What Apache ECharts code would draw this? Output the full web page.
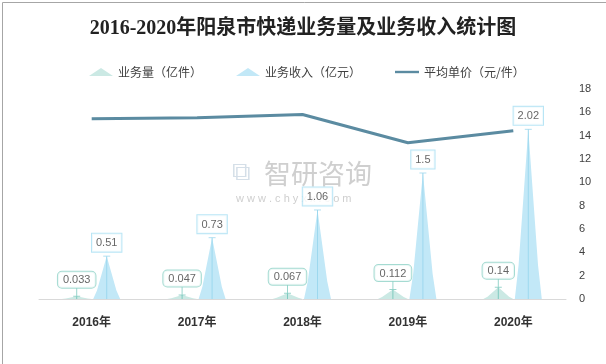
<!DOCTYPE html>
<html><head><meta charset="utf-8">
<script src="https://cdn.jsdelivr.net/npm/echarts@6/dist/echarts.min.js"></script>
<style>html,body{margin:0;padding:0;background:#fff}#c{width:606px;height:364px}</style>
</head><body><div id="c"></div>
<script>
const years = ['2016年', '2017年', '2018年', '2019年', '2020年'];
const volume = [0.033, 0.047, 0.067, 0.112, 0.14];      // 业务量（亿件）
const revenue = [0.51, 0.73, 1.06, 1.5, 2.02];          // 业务收入（亿元）
const unitPrice = [15.45, 15.53, 15.82, 13.39, 14.43];  // 平均单价（元/件）

const volColor = '#cbe9e4', revColor = '#c2e8f7', lineColor = '#5b8ba1';
const volLine = '#7fcabf', revLine = '#9dd8ee';
const spike = 'path://M0,100 L14,80 L50,0 L86,80 L100,100 Z';
const lblFont = {fontSize: 11, color: '#404040', fontFamily: 'Arial, "Liberation Sans", "Noto Sans CJK SC"'};

const chart = echarts.init(document.getElementById('c'));
chart.setOption({
  animation: false,
  title: {
    text: '2016-2020年阳泉市快递业务量及业务收入统计图',
    left: 'center', top: 14,
    textStyle: {fontSize: 20, fontWeight: 'bold', color: '#222', fontFamily: '"Liberation Serif", "Noto Sans CJK SC"'}
  },
  legend: {
    left: 84, top: 61, itemGap: 34, itemWidth: 24, itemHeight: 8,
    textStyle: {fontSize: 12, color: '#404040', fontFamily: '"Noto Sans CJK SC"'},
    data: [
      {name: '业务量（亿件）', icon: 'path://M0,8 L12,0 L24,8 Z', itemStyle: {color: volColor}},
      {name: '业务收入（亿元）', icon: 'path://M0,8 L12,0 L24,8 Z', itemStyle: {color: revColor}},
      {name: '平均单价（元/件）', icon: 'path://M0,0h30v3h-30z', itemStyle: {color: lineColor}}
    ]
  },
  grid: {left: 39, right: 40, top: 89, bottom: 65},
  xAxis: {
    type: 'category', data: years,
    axisTick: {show: false},
    axisLine: {lineStyle: {color: '#d9d9d9', width: 1}},
    axisLabel: {fontSize: 12, fontWeight: 'bold', color: '#333', margin: 18, fontFamily: 'Arial, "Liberation Sans", "Noto Sans CJK SC"'}
  },
  yAxis: [
    {type: 'value', min: 0, max: 2.5, show: false},
    {type: 'value', min: 0, max: 18, interval: 2, position: 'right',
     axisLine: {show: false}, axisTick: {show: false}, splitLine: {show: false},
     axisLabel: {fontSize: 11, color: '#404040', margin: 13, fontFamily: 'Arial, "Liberation Sans"'}}
  ],
  graphic: [
    {type: 'rect', left: 0, top: 0, shape: {width: 605, height: 363}, style: {fill: 'none', stroke: '#a6a6a6', lineWidth: 1}, silent: true, z: 100},
    {type: 'text', left: 264, top: 160, z: 0, style: {text: '智研咨询', fontSize: 27, fill: '#cfcfcf', fontFamily: '"Noto Sans CJK SC"', fontWeight: 'normal'}},
    {type: 'text', left: 236, top: 193, z: 0, style: {text: 'w w w . c h y x x . c o m', fontSize: 11, fill: '#cfcfcf', fontFamily: 'Arial, "Liberation Sans"'}},
    {type: 'text', left: 232, top: 160, z: 0, style: {text: '⧉', fontSize: 26, fill: '#d5dfe8'}}
  ],
  series: [
    {name: '业务量（亿件）', type: 'pictorialBar', yAxisIndex: 0, data: volume,
     symbol: spike, symbolSize: [30, '100%'], symbolOffset: [-15, 0],
     itemStyle: {color: volColor}, z: 3},
    {name: '业务收入（亿元）', type: 'pictorialBar', yAxisIndex: 0, data: revenue,
     symbol: spike, symbolSize: [27, '100%'], symbolOffset: [15, 0],
     itemStyle: {color: revColor}, z: 3},
    {name: 'volStem', type: 'pictorialBar', yAxisIndex: 0, data: volume,
     symbol: 'rect', symbolSize: [1, '100%'], symbolOffset: [-15, 0],
     itemStyle: {color: volLine}, z: 4},
    {name: 'revStem', type: 'pictorialBar', yAxisIndex: 0, data: revenue,
     symbol: 'rect', symbolSize: [1, '100%'], symbolOffset: [15, 0],
     itemStyle: {color: revLine}, z: 4},
    {name: 'volLbl', type: 'scatter', yAxisIndex: 0, data: volume,
     symbol: 'path://M0,8h7v1h-7z M3,0h1v9h-1z', symbolSize: [7, 9], symbolOffset: [-15, -4],
     itemStyle: {color: volLine}, z: 5, silent: true,
     label: {show: true, position: 'top', distance: 0, ...lblFont,
       backgroundColor: '#fff', borderColor: '#8fd2c7', borderWidth: 1, borderRadius: 4, padding: [3, 5, 2, 5]}},
    {name: 'revLbl', type: 'scatter', yAxisIndex: 0, data: revenue,
     symbol: 'rect', symbolSize: [7, 1], symbolOffset: [15, 0],
     itemStyle: {color: revLine}, z: 5, silent: true,
     label: {show: true, position: 'top', distance: 4, ...lblFont,
       backgroundColor: '#fff', borderColor: '#a6def2', borderWidth: 1, padding: [4, 4, 3, 4]}},
    {name: '平均单价（元/件）', type: 'line', yAxisIndex: 1, data: unitPrice,
     symbol: 'none', lineStyle: {color: lineColor, width: 3}, itemStyle: {color: lineColor}, z: 6}
  ]
});
</script></body></html>
